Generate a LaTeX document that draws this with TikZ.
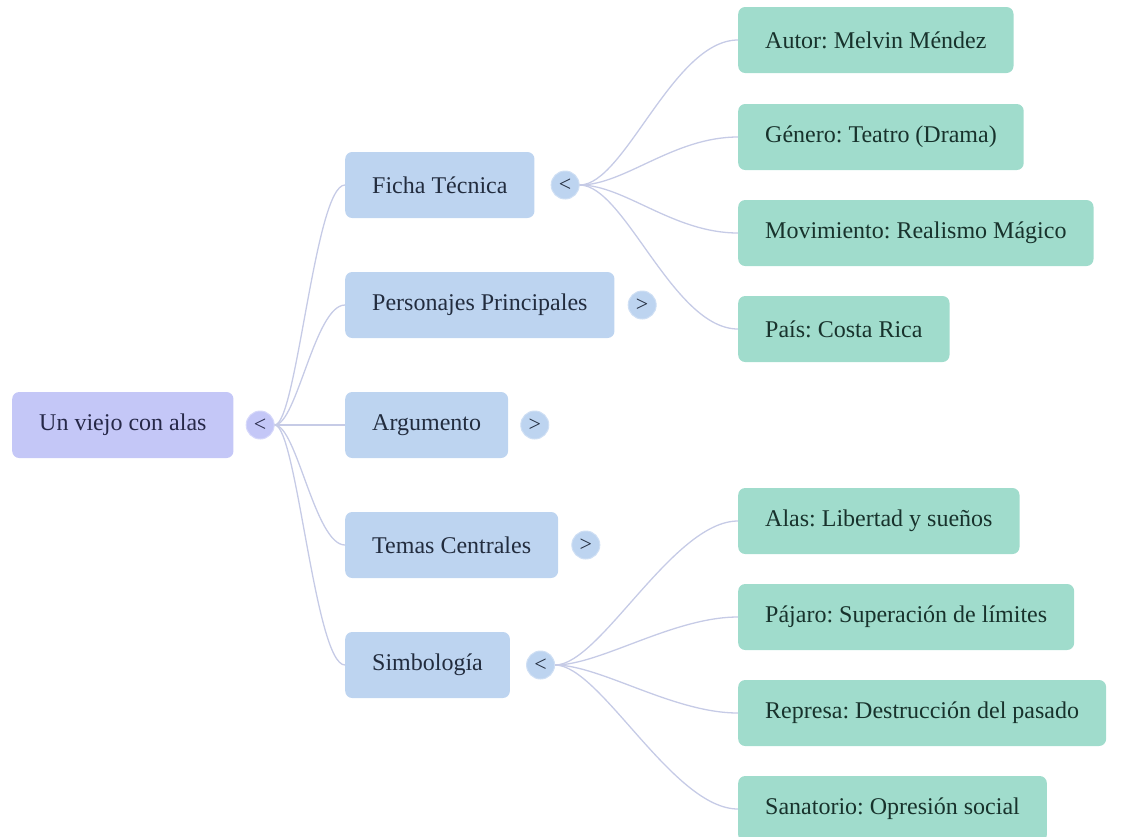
\documentclass[tikz,border=0pt]{standalone}
\usepackage{fontspec}
\setmainfont{Liberation Serif}
\frenchspacing
\usetikzlibrary{positioning}
\definecolor{rootfill}{HTML}{C4C7F7}
\definecolor{rootring}{HTML}{D6D8FA}
\definecolor{topicfill}{HTML}{BDD4F0}
\definecolor{topicring}{HTML}{CFDFF4}
\definecolor{leaffill}{HTML}{A0DCCC}
\definecolor{inkroot}{HTML}{262848}
\definecolor{inktopic}{HTML}{222C3E}
\definecolor{inkleaf}{HTML}{18322C}
\definecolor{linkcol}{HTML}{C6CBE6}
\tikzset{
  box/.style={rounded corners=7pt, minimum height=66pt, inner xsep=27pt, anchor=west,
    font=\fontsize{24}{29}\selectfont},
  rootbox/.style={box, fill=rootfill, text=inkroot},
  topicbox/.style={box, fill=topicfill, text=inktopic},
  leafbox/.style={box, fill=leaffill, text=inkleaf},
  toggle/.style={circle, minimum size=28pt, inner sep=0pt, line width=1pt,
    font=\fontsize{22}{22}\selectfont},
  link/.style={draw=linkcol, line width=1.3pt},
}
\begin{document}
\begin{tikzpicture}[x=1pt,y=-1pt]
\useasboundingbox (0,0) rectangle (1123,836);

% root
\node[rootbox] (root) at (12,425) {Un viejo con alas};
\node[toggle, fill=rootfill, draw=rootring, text=inkroot, right=12pt of root] (rootT) {<};

% first level
\node[topicbox] (fic) at (345,185) {Ficha Técnica};
\node[topicbox] (per) at (345,305) {Personajes Principales};
\node[topicbox] (arg) at (345,425) {Argumento};
\node[topicbox] (tem) at (345,545) {Temas Centrales};
\node[topicbox] (sim) at (345,665) {Simbología};

\node[toggle, fill=topicfill, draw=topicring, text=inktopic, right=16pt of fic] (ficT) {<};
\node[toggle, fill=topicfill, draw=topicring, text=inktopic, right=13pt of per] (perT) {>};
\node[toggle, fill=topicfill, draw=topicring, text=inktopic, right=12pt of arg] (argT) {>};
\node[toggle, fill=topicfill, draw=topicring, text=inktopic, right=13pt of tem] (temT) {>};
\node[toggle, fill=topicfill, draw=topicring, text=inktopic, right=16pt of sim] (simT) {<};

\foreach \n in {fic,per,arg,tem,sim}
  \draw[link] (rootT.east) .. controls +(22,0) and +(-30,0) .. (\n.west);

% leaves
\foreach \n/\y/\t in {aut/40/{Autor: Melvin Méndez}, gen/137/{Género: Teatro (Drama)},
    mov/233/{Movimiento: Realismo Mágico}, pai/329/{País: Costa Rica}}
  \node[leafbox] (\n) at (738,\y) {\t};
\foreach \n/\y/\t in {ala/521/{Alas: Libertad y sueños}, paj/617/{Pájaro: Superación de límites},
    rep/713/{Represa: Destrucción del pasado}, san/809/{Sanatorio: Opresión social}}
  \node[leafbox] (\n) at (738,\y) {\t};

\foreach \n in {aut,gen,mov,pai}
  \draw[link] (ficT.east) .. controls +(45,0) and +(-65,0) .. (\n.west);
\foreach \n in {ala,paj,rep,san}
  \draw[link] (simT.east) .. controls +(45,0) and +(-65,0) .. (\n.west);
\end{tikzpicture}
\end{document}
